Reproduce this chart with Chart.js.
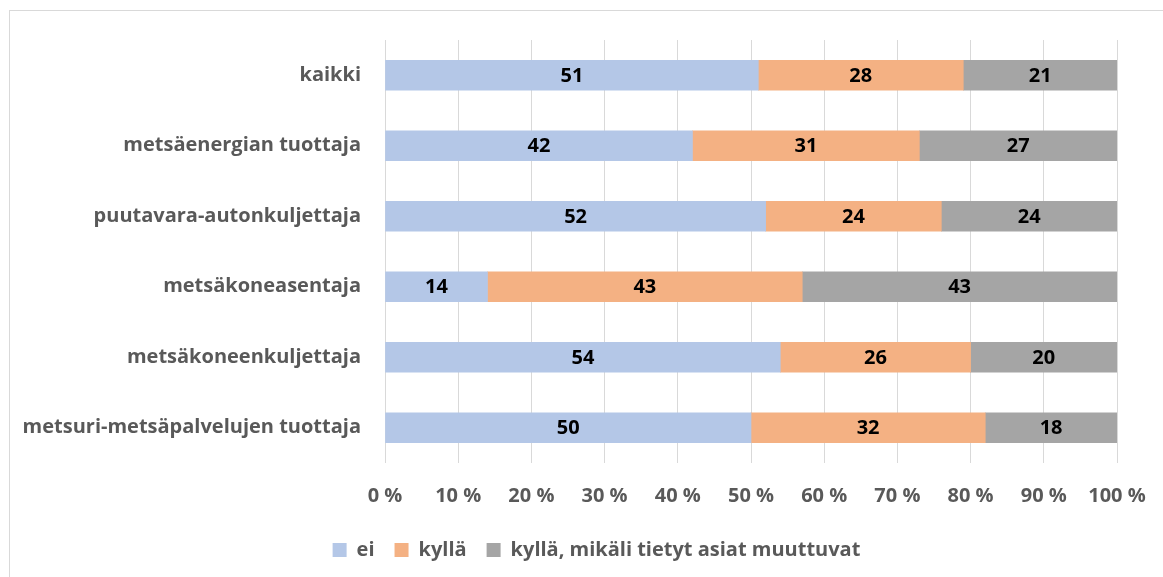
<!DOCTYPE html>
<html>
<head>
<meta charset="utf-8">
<script src="https://cdn.jsdelivr.net/npm/chart.js@4"></script>
<style>
  html, body { margin: 0; padding: 0; background: #fff; }
  #wrap { width: 1163px; height: 577px; }
</style>
</head>
<body>
<div id="wrap"><canvas id="chart" width="1163" height="577"></canvas></div>
<script>
const categories = [
  'kaikki',
  'metsäenergian tuottaja',
  'puutavara-autonkuljettaja',
  'metsäkoneasentaja',
  'metsäkoneenkuljettaja',
  'metsuri-metsäpalvelujen tuottaja'
];
const seriesNames = ['ei', 'kyllä', 'kyllä, mikäli tietyt asiat muuttuvat'];
const ei = [51, 42, 52, 14, 54, 50];
const kylla = [28, 31, 24, 43, 26, 32];
const kyllaJos = [21, 27, 24, 43, 20, 18];
const tickValues = [0, 10, 20, 30, 40, 50, 60, 70, 80, 90, 100];

const FONT = '"Open Sans", sans-serif';
const GREY = '#595959';

// value labels in the middle of each bar segment
const barLabels = {
  id: 'barLabels',
  afterDatasetsDraw(chart) {
    const ctx = chart.ctx;
    ctx.save();
    ctx.font = 'bold 20px ' + FONT;
    ctx.fillStyle = '#000';
    ctx.textAlign = 'center';
    ctx.textBaseline = 'middle';
    chart.data.datasets.forEach((ds, i) => {
      chart.getDatasetMeta(i).data.forEach((bar, j) => {
        const p = bar.getProps(['x', 'y', 'base'], true);
        ctx.fillText(String(ds.data[j]), (p.x + p.base) / 2, p.y + 1);
      });
    });
    ctx.restore();
  }
};

// thin frame around the chart, legend nudged under the plot
const frame = {
  id: 'frame',
  afterLayout(chart) {
    const lg = chart.legend;
    lg.left += 38; lg.right += 38;
    lg.top -= 7; lg.bottom -= 7;
  },
  beforeDraw(chart) {
    const ctx = chart.ctx;
    ctx.save();
    ctx.strokeStyle = '#d9d9d9';
    ctx.lineWidth = 1;
    ctx.strokeRect(9.5, 10.5, 1200, 600);
    ctx.restore();
  }
};

new Chart(document.getElementById('chart'), {
  type: 'bar',
  data: {
    labels: categories,
    datasets: [
      { label: seriesNames[0], data: ei, backgroundColor: '#b4c7e7' },
      { label: seriesNames[1], data: kylla, backgroundColor: '#f4b183' },
      { label: seriesNames[2], data: kyllaJos, backgroundColor: '#a5a5a5' }
    ]
  },
  options: {
    indexAxis: 'y',
    responsive: false,
    animation: false,
    barThickness: 30,
    layout: { padding: { top: 40, right: 46, left: 0, bottom: 0 } },
    scales: {
      x: {
        stacked: true,
        min: 0,
        max: 100,
        afterBuildTicks(scale) {
          scale.ticks = tickValues.map(v => ({ value: v }));
        },
        afterFit(scale) {
          scale.height = 64;
          scale.paddingLeft = 0;
          scale.paddingRight = 0;
        },
        grid: { color: '#d9d9d9', drawTicks: false },
        border: { display: false },
        ticks: {
          padding: 21,
          color: GREY,
          font: { family: FONT, size: 20, weight: 'bold' },
          callback: v => v + ' %'
        }
      },
      y: {
        stacked: true,
        afterFit(scale) { scale.width = 385; },
        grid: { display: false, drawTicks: false },
        border: { display: false },
        ticks: {
          padding: 24,
          color: GREY,
          font: { family: FONT, size: 20, weight: 'bold' }
        }
      }
    },
    plugins: {
      legend: {
        position: 'bottom',
        labels: {
          boxWidth: 14,
          boxHeight: 14,
          padding: 20,
          color: GREY,
          font: { family: FONT, size: 20, weight: 'bold' }
        }
      },
      tooltip: { enabled: false }
    }
  },
  plugins: [frame, barLabels]
});
</script>
</body>
</html>
